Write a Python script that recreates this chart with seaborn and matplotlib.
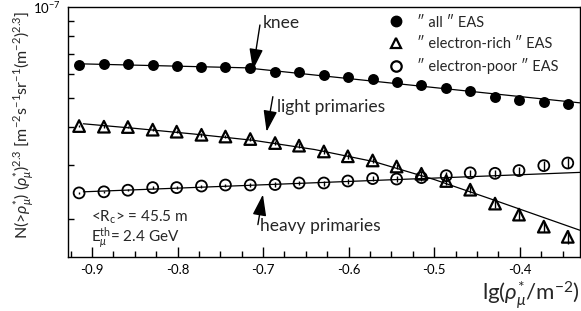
import numpy as np
import pandas as pd
import matplotlib
matplotlib.use("Agg")
import matplotlib.pyplot as plt
from matplotlib.lines import Line2D
from matplotlib.ticker import FixedLocator, NullFormatter, FixedFormatter
import seaborn as sns

# ---- data -------------------------------------------------------------
lg_rho = [-0.915, -0.886, -0.858, -0.829, -0.801, -0.772, -0.744, -0.715,
          -0.686, -0.658, -0.629, -0.601, -0.572, -0.544, -0.515, -0.486,
          -0.458, -0.429, -0.401, -0.372, -0.344]

all_eas = [6.43, 6.46, 6.48, 6.44, 6.40, 6.35, 6.33, 6.27, 6.11, 6.07, 5.96,
           5.88, 5.78, 5.64, 5.53, 5.39, 5.28, 5.02, 4.93, 4.85, 4.78]   # 1e-8
rich_eas = [4.04, 4.02, 4.01, 3.93, 3.87, 3.78, 3.73, 3.66, 3.55, 3.48, 3.33,
            3.21, 3.11, 2.97, 2.81, 2.66, 2.49, 2.24, 2.06, 1.88, 1.74]  # 1e-8
rich_err = [0.04, 0.04, 0.04, 0.04, 0.05, 0.05, 0.05, 0.05, 0.05, 0.06, 0.06,
            0.06, 0.06, 0.06, 0.07, 0.07, 0.07, 0.08, 0.08, 0.08, 0.09]
poor_eas = [2.43, 2.45, 2.48, 2.53, 2.53, 2.56, 2.58, 2.58, 2.59, 2.62, 2.62,
            2.66, 2.71, 2.70, 2.73, 2.77, 2.83, 2.82, 2.88, 2.99, 3.05]  # 1e-8
poor_err = [0.02, 0.02, 0.02, 0.03, 0.03, 0.03, 0.03, 0.04, 0.04, 0.04, 0.05,
            0.05, 0.05, 0.06, 0.06, 0.07, 0.07, 0.08, 0.09, 0.10, 0.11]

# fitted curves (values read at a few abscissae)
fit_all_x = [-0.910, -0.720, -0.330]
fit_all_y = [6.48, 6.29, 4.82]
fit_rich_x = [-0.910, -0.850, -0.780, -0.710, -0.640, -0.570, -0.500, -0.430, -0.330]
fit_rich_y = [4.11, 3.97, 3.80, 3.62, 3.38, 3.08, 2.69, 2.30, 1.83]
fit_poor_x = [-0.910, -0.330]
fit_poor_y = [2.45, 2.84]

scale = 1e-8

legend_labels = ["\u2033 all \u2033 EAS", "\u2033 electron-rich \u2033 EAS",
                 "\u2033 electron-poor \u2033 EAS"]
xticks = [-0.9, -0.8, -0.7, -0.6, -0.5, -0.4]
xticklabels = ["-0.9", "-0.8", "-0.7", "-0.6", "-0.5", "-0.4"]

# ---- style ------------------------------------------------------------
sns.set_theme(style="ticks")
plt.rcParams['font.family'] = ['Lato', 'DejaVu Sans']
plt.rcParams['mathtext.fontset'] = 'custom'
plt.rcParams['mathtext.rm'] = 'Lato'
plt.rcParams['mathtext.it'] = 'Lato:italic'

fig = plt.figure(figsize=(5.81, 3.11), dpi=100)
ax = fig.add_axes([0.117, 0.1746, 0.998 - 0.117, 0.978 - 0.1746])

x = np.array(lg_rho)
df = pd.DataFrame({
    "x": x,
    "all": np.array(all_eas) * scale,
    "rich": np.array(rich_eas) * scale,
    "poor": np.array(poor_eas) * scale,
})

# fit lines
sns.lineplot(x=fit_all_x, y=np.array(fit_all_y) * scale, ax=ax, color="black", lw=0.9, zorder=2)
sns.lineplot(x=fit_rich_x, y=np.array(fit_rich_y) * scale, ax=ax, color="black", lw=0.9, zorder=2)
sns.lineplot(x=fit_poor_x, y=np.array(fit_poor_y) * scale, ax=ax, color="black", lw=0.9, zorder=2)

# error bars
ax.errorbar(x, df["rich"], yerr=np.array(rich_err) * scale, fmt="none", ecolor="black", elinewidth=1.0, capsize=0, zorder=3)
ax.errorbar(x, df["poor"], yerr=np.array(poor_err) * scale, fmt="none", ecolor="black", elinewidth=1.0, capsize=0, zorder=3)

# markers
sns.scatterplot(data=df, x="x", y="all", ax=ax, marker="o", s=62, color="black",
                edgecolor="black", linewidth=0, zorder=4)
sns.scatterplot(data=df, x="x", y="rich", ax=ax, marker="^", s=70, facecolor="none",
                edgecolor="black", linewidth=1.6, zorder=4)
sns.scatterplot(data=df, x="x", y="poor", ax=ax, marker="o", s=62, facecolor="none",
                edgecolor="black", linewidth=1.3, zorder=4)

# axes
ax.set_yscale("log")
ax.set_xlim(-0.928, -0.3299)
ax.set_ylim(1.496e-8, 1e-7)
ax.set_xticks(xticks)
ax.set_xticklabels(xticklabels, fontsize=9.5)
ax.xaxis.set_minor_locator(FixedLocator(np.arange(-0.925, -0.33, 0.025)))
ax.yaxis.set_major_locator(FixedLocator([1e-7]))
ax.yaxis.set_major_formatter(FixedFormatter([r"10$^{-7}$"]))
ax.yaxis.set_minor_locator(FixedLocator([k * 1e-8 for k in range(2, 10)]))
ax.yaxis.set_minor_formatter(NullFormatter())
ax.tick_params(axis="both", which="major", direction="in", length=7, width=1, colors="black", labelsize=9.5, pad=5)
ax.tick_params(axis="both", which="minor", direction="in", length=4, width=1, colors="black")
ax.tick_params(axis="y", which="major", length=0, labelsize=9.5, pad=5)
for sp in ax.spines.values():
    sp.set_linewidth(1.0)
    sp.set_color("black")
ax.set_xlabel("")
ax.set_ylabel("")

fig.text(0.998, 0.0, r"lg($\rho^{*}_{\mu}$/m$^{-2}$)", ha="right", va="bottom", fontsize=16)
fig.text(0.042, 0.965,
         r"N(>$\rho^{*}_{\mu}$) ($\rho^{*}_{\mu}$)$^{2.3}$ [m$^{-2}$s$^{-1}$sr$^{-1}$(m$^{-2}$)$^{2.3}$]",
         rotation=90, ha="center", va="top", fontsize=11.5)

# annotations
ax.text(-0.901, 2.02e-8, r"<R$_{\rm c}$> = 45.5 m", fontsize=11, va="center")
ax.text(-0.901, 1.72e-8, r"E$_{\mu}^{\rm th}$= 2.4 GeV", fontsize=11, va="center")

arrowprops = dict(arrowstyle="-|>,head_length=1.3,head_width=0.42", color="black", lw=1.0,
                  shrinkA=0, shrinkB=0, mutation_scale=10)
ax.annotate("", xy=(-0.7119, 6.19e-8), xytext=(-0.7037, 8.71e-8), arrowprops=arrowprops)
ax.annotate("", xy=(-0.6959, 3.87e-8), xytext=(-0.6886, 5.05e-8), arrowprops=arrowprops)
ax.annotate("", xy=(-0.7002, 2.40e-8), xytext=(-0.7061, 1.91e-8), arrowprops=arrowprops)
ax.text(-0.7002, 8.84e-8, "knee", fontsize=12.5, va="center", ha="left")
ax.text(-0.6839, 4.68e-8, "light primaries", fontsize=12.5, va="center", ha="left")
ax.text(-0.7037, 1.885e-8, "heavy primaries", fontsize=12.5, va="center", ha="left")

handles = [
    Line2D([], [], ls="none", marker="o", ms=7.5, mfc="black", mec="black"),
    Line2D([], [], ls="none", marker="^", ms=7.5, mfc="none", mec="black", mew=1.6),
    Line2D([], [], ls="none", marker="o", ms=7.5, mfc="none", mec="black", mew=1.6),
]
ax.legend(handles, legend_labels, loc="upper right", frameon=False, fontsize=10.5,
          handlelength=1.0, handletextpad=0.9, labelspacing=0.5,
          borderaxespad=0.2, bbox_to_anchor=(0.975, 1.0))

fig.savefig("out.png", dpi=100)
